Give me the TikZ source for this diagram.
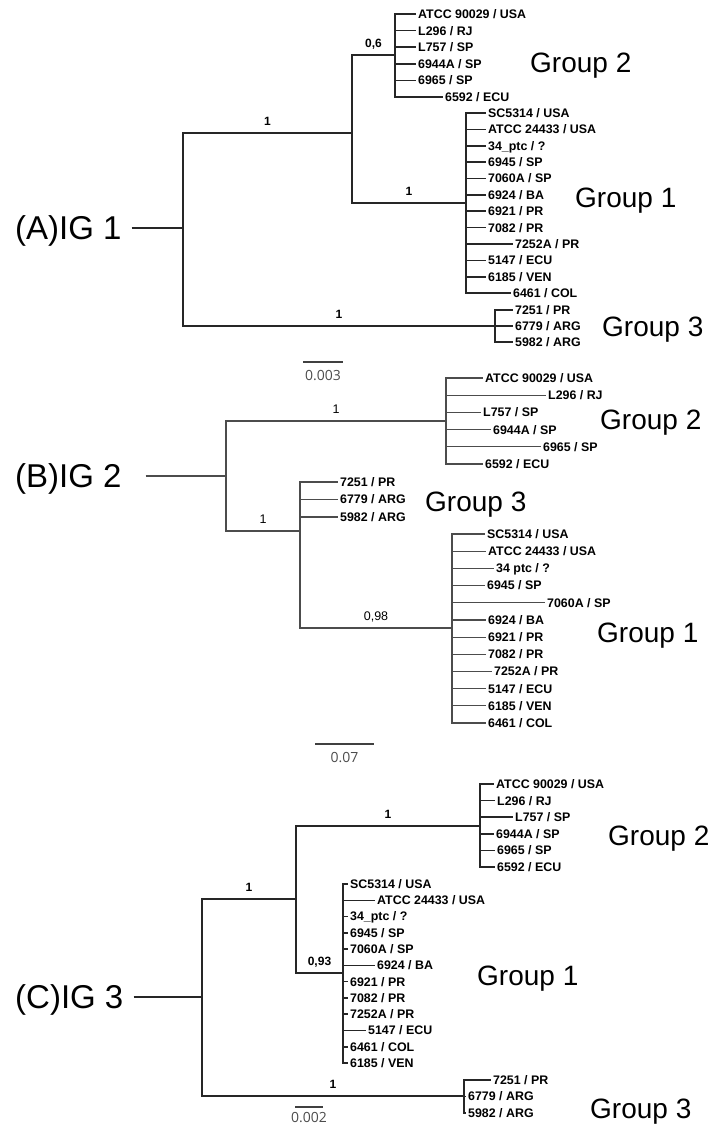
\documentclass[tikz,border=0pt]{standalone}
\usepackage{fontspec}
\setmainfont{Liberation Sans}
\newfontfamily\scalefont{Open Sans}
\begin{document}
\begin{tikzpicture}[x=1pt,y=-1pt,
  tip/.style={anchor=west,inner sep=2pt,text height=8.9pt,text depth=0pt,font=\bfseries\fontsize{12.4}{12.4}\selectfont},
  grp/.style={anchor=west,inner sep=0pt,text height=20pt,text depth=0pt,font=\fontsize{28}{28}\selectfont},
  ig/.style={anchor=west,inner xsep=10pt,inner ysep=0pt,text height=23.6pt,text depth=0pt,font=\fontsize{33}{33}\selectfont},
  supp/.style={anchor=south,inner sep=0pt,yshift=6.5pt,text height=8.6pt,text depth=0pt,font=\bfseries\fontsize{12}{12}\selectfont},
  suppB/.style={supp,font=\fontsize{12.5}{12.5}\selectfont},
  br/.style={draw=black!85,line width=1.6pt},
  brB/.style={draw=black!70,line width=1.2pt},
  scalebar/.style={draw=black!75,line width=1.3pt},
  bartxt/.style={anchor=north,inner sep=0pt,yshift=-8pt,text height=10pt,text depth=0pt,text=black!70,font=\scalefont\fontsize{14}{14}\selectfont}]
\useasboundingbox (0,0) rectangle (715,1125);

% (A) IG 1
\node[ig] (igA) at (5,228) {(A)IG 1};
\coordinate (aR)  at (183,228);
\coordinate (aN1) at (352,133);
\coordinate (aN2) at (395,55);
\coordinate (aN4) at (466,203);
\coordinate (aN3) at (495,326);

\node[tip] (a2a) at (416,14)   {ATCC 90029 / USA};
\node[tip] (a2b) at (416,30.6) {L296 / RJ};
\node[tip] (a2c) at (416,47.2) {L757 / SP};
\node[tip] (a2d) at (416,63.8) {6944A / SP};
\node[tip] (a2e) at (416,80.4) {6965 / SP};
\node[tip] (a2f) at (443,97)   {6592 / ECU};

\node[tip] (a1a) at (486,113)   {SC5314 / USA};
\node[tip] (a1b) at (486,129.4) {ATCC 24433 / USA};
\node[tip] (a1c) at (486,145.7) {34\_ptc / ?};
\node[tip] (a1d) at (486,162.1) {6945 / SP};
\node[tip] (a1e) at (486,178.5) {7060A / SP};
\node[tip] (a1f) at (486,194.8) {6924 / BA};
\node[tip] (a1g) at (486,211.2) {6921 / PR};
\node[tip] (a1h) at (486,227.6) {7082 / PR};
\node[tip] (a1i) at (513,244)   {7252A / PR};
\node[tip] (a1j) at (486,260.3) {5147 / ECU};
\node[tip] (a1k) at (486,276.7) {6185 / VEN};
\node[tip] (a1l) at (511,293)   {6461 / COL};

\node[tip] (a3a) at (513,310) {7251 / PR};
\node[tip] (a3b) at (513,326) {6779 / ARG};
\node[tip] (a3c) at (513,342) {5982 / ARG};

\node[grp] (gA2) at (530,62)  {Group 2};
\node[grp] (gA1) at (575,197) {Group 1};
\node[grp] (gA3) at (602,326) {Group 3};

\draw[br] (igA.east) -- (aR);
\draw[br] (aR) |- node[supp,pos=.75]{1} (aN1);
\draw[br] (aR) |- node[supp,pos=.75]{1} (aN3);
\draw[br] (aN1) |- node[supp,pos=.75]{0,6} (aN2);
\draw[br] (aN1) |- node[supp,pos=.75]{1} (aN4);
\foreach \t in {a2a,a2b,a2c,a2d,a2e,a2f} \draw[br] (aN2) |- (\t.west);
\foreach \t in {a1a,a1b,a1c,a1d,a1e,a1f,a1g,a1h,a1i,a1j,a1k,a1l} \draw[br] (aN4) |- (\t.west);
\foreach \t in {a3a,a3b,a3c} \draw[br] (aN3) |- (\t.west);

\coordinate (sA1) at (303,362);
\coordinate (sA2) at (343,362);
\draw[scalebar] (sA1) -- node[bartxt]{0.003} (sA2);

% (B) IG 2
\node[ig] (igB) at (5,476) {(B)IG 2};
\coordinate (bR)  at (226,476);
\coordinate (bN1) at (446,421);
\coordinate (bN2) at (300,531);
\coordinate (bN3) at (452,628);

\node[tip] (b2a) at (483,378)   {ATCC 90029 / USA};
\node[tip] (b2b) at (546,395.2) {L296 / RJ};
\node[tip] (b2c) at (481,412.4) {L757 / SP};
\node[tip] (b2d) at (491,429.6) {6944A / SP};
\node[tip] (b2e) at (541,446.8) {6965 / SP};
\node[tip] (b2f) at (483,464)   {6592 / ECU};

\node[tip] (b3a) at (338,482)   {7251 / PR};
\node[tip] (b3b) at (338,499.5) {6779 / ARG};
\node[tip] (b3c) at (338,517)   {5982 / ARG};

\node[tip] (b1a) at (485,534)   {SC5314 / USA};
\node[tip] (b1b) at (486,551.2) {ATCC 24433 / USA};
\node[tip] (b1c) at (494,568.4) {34 ptc / ?};
\node[tip] (b1d) at (485,585.5) {6945 / SP};
\node[tip] (b1e) at (545,602.7) {7060A / SP};
\node[tip] (b1f) at (486,619.9) {6924 / BA};
\node[tip] (b1g) at (486,637.1) {6921 / PR};
\node[tip] (b1h) at (486,654.3) {7082 / PR};
\node[tip] (b1i) at (492,671.5) {7252A / PR};
\node[tip] (b1j) at (486,688.6) {5147 / ECU};
\node[tip] (b1k) at (486,705.8) {6185 / VEN};
\node[tip] (b1l) at (486,723)   {6461 / COL};

\node[grp] (gB2) at (600,419) {Group 2};
\node[grp] (gB3) at (425,501) {Group 3};
\node[grp] (gB1) at (597,632) {Group 1};

\draw[brB] ([xshift=14pt]igB.east) -- (bR);
\draw[brB] (bR) |- node[suppB,pos=.75]{1} (bN1);
\draw[brB] (bR) |- node[suppB,pos=.75]{1} (bN2);
\draw[brB] (bN2) |- node[suppB,pos=.75]{0,98} (bN3);
\foreach \t in {b2a,b2b,b2c,b2d,b2e,b2f} \draw[brB] (bN1) |- (\t.west);
\foreach \t in {b3a,b3b,b3c} \draw[brB] (bN2) |- (\t.west);
\foreach \t in {b1a,b1b,b1c,b1d,b1e,b1f,b1g,b1h,b1i,b1j,b1k,b1l} \draw[brB] (bN3) |- (\t.west);

\coordinate (sB1) at (315,744);
\coordinate (sB2) at (374,744);
\draw[scalebar] (sB1) -- node[bartxt]{0.07} (sB2);

% (C) IG 3
\node[ig] (igC) at (5,997) {(C)IG 3};
\coordinate (cR)  at (202,997);
\coordinate (cN1) at (296,899);
\coordinate (cN2) at (480,826);
\coordinate (cN3) at (343,973);
\coordinate (cN4) at (464,1096);

\node[tip] (c2a) at (494,784)   {ATCC 90029 / USA};
\node[tip] (c2b) at (495,800.6) {L296 / RJ};
\node[tip] (c2c) at (513,817.2) {L757 / SP};
\node[tip] (c2d) at (494,833.8) {6944A / SP};
\node[tip] (c2e) at (495,850.4) {6965 / SP};
\node[tip] (c2f) at (495,867)   {6592 / ECU};

\node[tip] (c1a) at (348,884)    {SC5314 / USA};
\node[tip] (c1b) at (375,900.3)  {ATCC 24433 / USA};
\node[tip] (c1c) at (348,916.5)  {34\_ptc / ?};
\node[tip] (c1d) at (348,932.8)  {6945 / SP};
\node[tip] (c1e) at (348,949.1)  {7060A / SP};
\node[tip] (c1f) at (375,965.4)  {6924 / BA};
\node[tip] (c1g) at (348,981.6)  {6921 / PR};
\node[tip] (c1h) at (348,997.9)  {7082 / PR};
\node[tip] (c1i) at (348,1014.2) {7252A / PR};
\node[tip] (c1j) at (366,1030.4) {5147 / ECU};
\node[tip] (c1k) at (348,1046.7) {6461 / COL};
\node[tip] (c1l) at (348,1063)   {6185 / VEN};

\node[tip] (c3a) at (491,1080)   {7251 / PR};
\node[tip] (c3b) at (466,1096.5) {6779 / ARG};
\node[tip] (c3c) at (466,1113)   {5982 / ARG};

\node[grp] (gC2) at (608,835)  {Group 2};
\node[grp] (gC1) at (477,975)  {Group 1};
\node[grp] (gC3) at (590,1108) {Group 3};

\draw[br] (igC.east) -- (cR);
\draw[br] (cR) |- node[supp,pos=.75]{1} (cN1);
\draw[br] (cR) |- node[supp,pos=.75]{1} (cN4);
\draw[br] (cN1) |- node[supp,pos=.75]{1} (cN2);
\draw[br] (cN1) |- node[supp,pos=.75]{0,93} (cN3);
\foreach \t in {c2a,c2b,c2c,c2d,c2e,c2f} \draw[br] (cN2) |- (\t.west);
\foreach \t in {c1a,c1b,c1c,c1d,c1e,c1f,c1g,c1h,c1i,c1j,c1k,c1l} \draw[br] (cN3) |- (\t.west);
\foreach \t in {c3a,c3b,c3c} \draw[br] (cN4) |- (\t.west);

\coordinate (sC1) at (295,1107);
\coordinate (sC2) at (323,1107);
\draw[scalebar] (sC1) -- node[bartxt,yshift=3pt]{0.002} (sC2);
\end{tikzpicture}
\end{document}
